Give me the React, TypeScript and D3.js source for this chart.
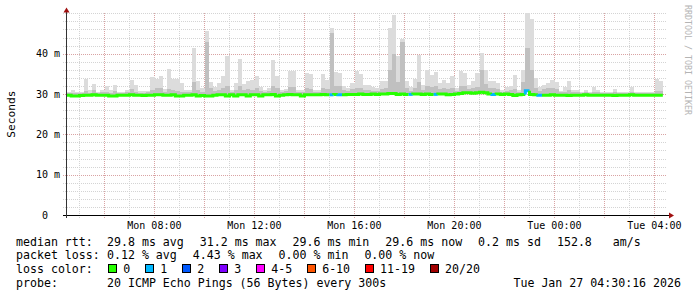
import React from 'react';
import * as d3 from 'd3';

// ---------- data ----------
const START = new Date(2026, 0, 26, 4, 30, 16);
const END = new Date(2026, 0, 27, 4, 30, 16);
const STEP_MINUTES = 10;

// top of the light smoke (ms) per 10-min slot
const smokeTop: (number | null)[] = [
  30.6, 31.0, 30.5, 30.5, 33.7, 31.0, 32.5, 30.6, 31.0, 32.0,
  31.0, 32.3, 30.6, 30.6, 31.0, 33.5, 32.3, 30.8, 30.8, 30.8,
  34.3, 33.8, 34.5, 31.2, 36.2, 33.7, 33.7, 32.6, 31.0, 31.0,
  41.3, 33.2, 31.5, 45.5, 33.0, 31.8, 32.8, 34.4, 39.5, 31.0,
  32.7, 38.7, 32.5, 33.2, 33.4, 34.4, 31.8, 31.0, 31.4, 38.5,
  34.5, 31.0, 31.2, 35.7, 35.7, 31.0, 31.0, 35.2, 35.0, 31.0,
  31.0, 34.9, 33.5, 46.3, 35.5, 35.2, 32.0, 31.5, 32.7, 35.6,
  35.0, 32.3, 32.3, 31.8, 31.5, 33.1, 33.3, 46.3, 49.6, 39.3,
  43.6, 33.3, 31.8, 33.8, 39.6, 32.3, 36.0, 34.7, 35.5, 32.7,
  33.4, 32.8, 34.4, 31.5, 35.6, 35.2, 32.3, 33.3, 35.2, 40.1,
  36.0, 33.3, 33.3, 32.6, 31.0, 31.8, 32.0, 34.7, 31.0, 36.0,
  50.0, 48.7, 34.0, 31.8, 32.3, 32.7, 33.4, 33.0, 30.8, 31.8,
  33.2, 31.0, 31.0, 30.6, 31.0, 30.6, 31.8, 31.0, 30.5, 30.6,
  30.5, 31.2, 30.5, 30.5, 30.6, 31.8, 30.5, 30.6, 30.5, 30.4,
  30.4, 33.7, 33.2, null,
];

// top of the denser (darker) smoke (ms)
const smokeMid: (number | null)[] = [
  30.2, 30.3, 30.2, 30.2, 30.8, 30.3, 31.0, 30.2, 30.4, 30.6,
  30.3, 30.8, 30.2, 30.2, 30.4, 31.2, 30.6, 30.3, 30.3, 30.4,
  31.0, 31.4, 31.6, 30.6, 31.2, 31.0, 30.8, 30.6, 30.4, 30.4,
  33.0, 31.0, 30.6, 43.0, 31.4, 30.8, 31.0, 31.5, 32.0, 30.5,
  31.0, 32.0, 31.0, 31.2, 31.0, 31.6, 30.8, 30.6, 30.8, 32.0,
  31.5, 30.6, 30.8, 31.8, 31.8, 30.6, 30.6, 31.5, 31.2, 30.6,
  30.6, 31.5, 31.2, 45.0, 32.0, 32.0, 31.0, 30.8, 31.2, 31.6,
  31.5, 31.0, 31.0, 30.8, 30.8, 31.2, 31.4, 36.0, 40.0, 33.0,
  43.0, 31.5, 30.8, 31.5, 33.0, 31.0, 32.0, 31.8, 32.0, 31.2,
  31.4, 31.2, 31.6, 30.8, 32.0, 32.0, 31.2, 31.4, 31.8, 36.0,
  32.5, 31.4, 31.4, 31.2, 30.6, 30.8, 31.0, 31.2, 30.6, 33.0,
  41.4, 36.0, 31.4, 30.8, 31.2, 31.4, 31.4, 31.2, 30.4, 30.6,
  31.0, 30.4, 30.4, 30.2, 30.4, 30.2, 30.6, 30.4, 30.2, 30.2,
  30.2, 30.4, 30.2, 30.2, 30.2, 30.6, 30.2, 30.2, 30.2, 30.2,
  30.2, 30.8, 30.8, null,
];

// median rtt (ms)
const medianRtt: (number | null)[] = [
  29.7, 29.5, 29.5, 29.6, 29.7, 29.7, 29.8, 29.7, 29.7, 29.7,
  29.5, 29.5, 29.7, 29.7, 29.7, 29.8, 29.7, 29.7, 29.6, 29.7,
  29.7, 29.8, 29.8, 29.7, 29.7, 29.8, 29.5, 29.5, 29.7, 29.7,
  29.8, 29.5, 29.6, 29.5, 29.5, 29.7, 29.8, 29.8, 29.5, 29.8,
  29.5, 29.8, 29.8, 29.5, 29.8, 29.8, 29.5, 29.8, 29.8, 29.9,
  29.5, 29.7, 29.8, 29.9, 29.8, 29.8, 29.5, 29.8, 29.8, 29.8,
  29.8, 29.9, 29.8, 29.8, 29.9, 29.8, 29.8, 29.9, 29.9, 29.9,
  30.0, 29.9, 29.9, 30.0, 29.9, 30.0, 30.0, 30.1, 30.1, 29.9,
  30.0, 29.9, 29.9, 30.0, 30.0, 29.9, 30.0, 29.9, 29.9, 30.0,
  30.0, 29.8, 29.9, 30.0, 30.1, 30.3, 30.3, 30.2, 30.3, 30.4,
  30.3, 30.0, 29.9, 30.0, 29.9, 30.0, 29.9, 29.6, 29.8, 29.9,
  30.8, 29.9, 29.8, 29.7, 29.7, 29.7, 29.8, 29.7, 29.7, 29.7,
  29.6, 29.7, 29.7, 29.7, 29.8, 29.7, 29.7, 29.7, 29.7, 29.7,
  29.7, 29.6, 29.7, 29.7, 29.7, 29.8, 29.7, 29.7, 29.7, 29.7,
  29.7, 29.7, 29.7, null,
];

// loss class index per slot (index into lossLabels)
const lossClass: number[] = [
  0, 0, 0, 0, 0, 0, 0, 0, 0, 0, 0, 0, 0, 0, 0, 0, 0, 0, 0, 0,
  0, 0, 0, 0, 0, 0, 0, 0, 0, 0, 0, 0, 0, 0, 0, 0, 0, 0, 0, 0,
  0, 0, 0, 0, 0, 0, 0, 0, 0, 0, 0, 0, 0, 0, 0, 0, 0, 0, 0, 0,
  0, 0, 0, 1, 0, 1, 0, 0, 0, 0, 0, 0, 0, 0, 0, 0, 0, 0, 0, 0,
  0, 0, 1, 0, 0, 0, 0, 0, 1, 0, 0, 0, 0, 0, 0, 0, 0, 0, 0, 0,
  0, 0, 1, 0, 0, 0, 0, 0, 0, 0, 1, 0, 0, 1, 0, 0, 0, 0, 0, 0,
  0, 0, 0, 0, 0, 0, 0, 0, 0, 0, 0, 0, 0, 0, 0, 0, 0, 0, 0, 0,
  0, 0, 0, 0,
];

const yTickValues = [0, 10, 20, 30, 40];
const yTickLabels = ['0', '10 m', '20 m', '30 m', '40 m'];
const lossLabels = ['0', '1', '2', '3', '4-5', '6-10', '11-19', '20/20'];
const lossColors = ['#26ff00', '#00b8ff', '#0059ff', '#7e00ff', '#ff00ff', '#ff5500', '#ff0000', '#a10000'];
const rttStats = ['29.8 ms avg', '31.2 ms max', '29.6 ms min', '29.6 ms now', '0.2 ms sd'];
const amsValue = '152.8';
const amsUnit = 'am/s';
const lossStats = ['0.12 % avg', '4.43 % max', '0.00 % min', '0.00 % now'];
const probeText = '20 ICMP Echo Pings (56 Bytes) every 300s';
const stampText = 'Tue Jan 27 04:30:16 2026';
const yAxisTitle = 'Seconds';
const watermark = 'RRDTOOL / TOBI OETIKER';

// ---------- layout ----------
const W = 697;
const H = 297;
const PL = 67;
const PR = 667;
const PT = 13.3;
const PB = 215;
const MONO = '"DejaVu Sans Mono", monospace';
const CW = 6.98; // legend char advance
const GRID = '#d4d4d4';
const MGRID = '#d9a3a3';

export default function App() {
  const x = d3.scaleTime().domain([START, END]).range([PL, PR]);
  const y = d3.scaleLinear().domain([0, 50]).range([PB, PT]);
  const tAt = (i: number) => d3.timeMinute.offset(START, i * STEP_MINUTES);

  const hMinor = d3.range(2, 51, 2).filter((v) => v % 10 !== 0 || v === 50);
  const hMajor = [10, 20, 30, 40];
  const vMinor = x.ticks(d3.timeHour.every(1)!).filter((t) => t.getHours() % 2 !== 0);
  const vMajor = x.ticks(d3.timeHour.every(2)!);
  const vLabels = x.ticks(d3.timeHour.every(4)!);
  const fmt = d3.timeFormat('%a %H:%M');

  // median segments grouped by loss colour
  const groups: { cls: number; pts: [number, number][] }[] = [];
  medianRtt.forEach((m, i) => {
    if (m == null) return;
    const cls = lossClass[i];
    const x0 = x(tAt(i));
    const x1 = x(tAt(i + 1));
    const last = groups[groups.length - 1];
    if (last && last.cls === cls) {
      last.pts.push([x0, y(m)], [x1, y(m)]);
    } else {
      const prev = i > 0 ? medianRtt[i - 1] : null;
      const pts: [number, number][] = [];
      if (prev != null) pts.push([x0, y(prev)]);
      pts.push([x0, y(m)], [x1, y(m)]);
      groups.push({ cls, pts });
    }
  });
  const line = d3.line();

  // legend positions
  let sx = 107;
  const rttX = rttStats.map((s) => { const p = sx; sx += s.length * CW + 16; return p; });
  const amsX = sx;
  sx = 107;
  const lossX = lossStats.map((s) => { const p = sx; sx += s.length * CW + 16; return p; });
  let bx = 108.3;
  const boxX = lossLabels.map((s) => { const p = bx; bx += 30 + s.length * CW; return p; });
  const rowY = [245.5, 259.2, 273, 286.7];

  return (
    <svg width={W} height={H} style={{ position: 'absolute', left: 0, top: 0, background: '#fff' }}
      xmlns="http://www.w3.org/2000/svg">
      <rect x={0} y={0} width={W} height={H} fill="#fff" />

      {/* grid */}
      <g shapeRendering="crispEdges">
        {hMinor.map((v) => (
          <line key={'hm' + v} x1={63} x2={PR} y1={Math.round(y(v)) + 0.5} y2={Math.round(y(v)) + 0.5}
            stroke={GRID} strokeDasharray="1,1" />
        ))}
        {vMinor.map((t) => (
          <line key={'vm' + +t} x1={Math.round(x(t)) + 0.5} x2={Math.round(x(t)) + 0.5} y1={PT} y2={218}
            stroke={GRID} strokeDasharray="1,1" />
        ))}
        {hMajor.map((v) => (
          <line key={'hM' + v} x1={63} x2={PR} y1={Math.round(y(v)) + 0.5} y2={Math.round(y(v)) + 0.5}
            stroke={MGRID} strokeDasharray="1,1" />
        ))}
        {vMajor.map((t) => (
          <line key={'vM' + +t} x1={Math.round(x(t)) + 0.5} x2={Math.round(x(t)) + 0.5} y1={PT} y2={218}
            stroke={MGRID} strokeDasharray="1,1" />
        ))}
      </g>

      {/* smoke */}
      <g shapeRendering="crispEdges">
        {smokeTop.map((v, i) => {
          const m = medianRtt[i];
          if (v == null || m == null) return null;
          const x0 = x(tAt(i));
          const x1 = x(tAt(i + 1));
          return <rect key={'sl' + i} x={x0} width={x1 - x0} y={y(v)} height={y(m) - y(v)} fill="#dcdcdc" />;
        })}
        {smokeMid.map((v, i) => {
          const m = medianRtt[i];
          if (v == null || m == null) return null;
          const x0 = x(tAt(i));
          const x1 = x(tAt(i + 1));
          return <rect key={'sm' + i} x={x0} width={x1 - x0} y={y(v)} height={y(m) - y(v)} fill="#c0c0c0" />;
        })}
      </g>

      {/* median */}
      {groups.map((g, k) => (
        <path key={'md' + k} d={line(g.pts) || ''} fill="none" stroke={lossColors[g.cls]} strokeWidth={3} />
      ))}

      {/* axes */}
      <g shapeRendering="crispEdges">
        <line x1={63} x2={669} y1={PB + 0.5} y2={PB + 0.5} stroke="#000" />
        <line x1={PL - 0.5} x2={PL - 0.5} y1={PB + 3} y2={12} stroke="#333" />
      </g>
      <path d="M669,212.5 L674,215.5 L669,218.5 Z" fill="#a01010" />
      <path d="M63.5,12.5 L66.5,7.5 L69.5,12.5 Z" fill="#a01010" />

      {/* y labels */}
      {yTickValues.map((v, i) => (
        <text key={'yl' + v} x={v === 0 ? 48 : 60} y={y(v) + 3.6} textAnchor="end"
          fontFamily={MONO} fontSize={10} fill="#000">{yTickLabels[i]}</text>
      ))}
      {/* x labels */}
      {vLabels.map((t) => (
        <text key={'xl' + +t} x={x(t)} y={228.5} textAnchor="middle" fontFamily={MONO} fontSize={10} fill="#000">
          {fmt(t)}
        </text>
      ))}

      {/* axis title */}
      <text transform={`translate(14.5, ${(PT + PB) / 2}) rotate(-90)`} textAnchor="middle"
        fontFamily={MONO} fontSize={11.2} fill="#000">{yAxisTitle}</text>

      {/* watermark */}
      <text transform="translate(685, 5) rotate(90)" fontFamily={MONO} fontSize={8.3} fill="#b4b4b4">{watermark}</text>

      {/* legend */}
      <g fontFamily={MONO} fontSize={11.6} fill="#000">
        <text x={16} y={rowY[0]}>median rtt:</text>
        {rttStats.map((s, i) => <text key={'r' + i} x={rttX[i]} y={rowY[0]}>{s}</text>)}
        <text x={amsX} y={rowY[0]}>{amsValue}</text>
        <text x={amsX + 8 * CW} y={rowY[0]}>{amsUnit}</text>

        <text x={16} y={rowY[1]}>packet loss:</text>
        {lossStats.map((s, i) => <text key={'p' + i} x={lossX[i]} y={rowY[1]}>{s}</text>)}

        <text x={16} y={rowY[2]}>loss color:</text>
        {lossLabels.map((s, i) => (
          <g key={'lc' + i}>
            <rect x={Math.round(boxX[i]) + 0.5} y={264.5} width={8} height={8} fill={lossColors[i]} stroke="#000"
              shapeRendering="crispEdges" />
            <text x={boxX[i] + 15} y={rowY[2]}>{s}</text>
          </g>
        ))}

        <text x={16} y={rowY[3]}>probe:</text>
        <text x={107} y={rowY[3]}>{probeText}</text>
        <text x={681} y={rowY[3]} textAnchor="end">{stampText}</text>
      </g>
    </svg>
  );
}
